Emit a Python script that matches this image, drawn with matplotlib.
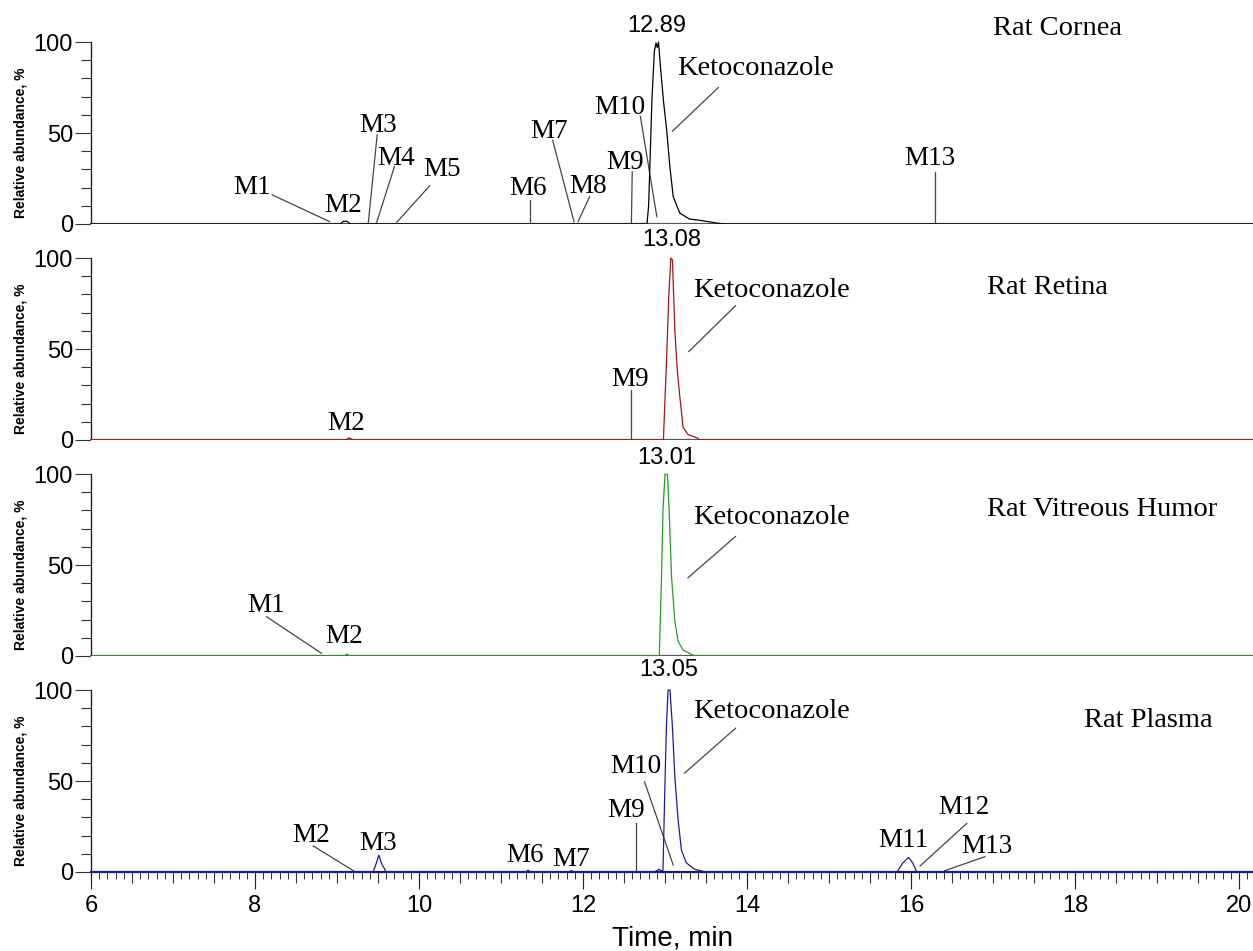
import matplotlib
matplotlib.use("Agg")
import matplotlib.pyplot as plt
from matplotlib.ticker import MultipleLocator, FixedLocator

# chromatogram traces (time in min, relative abundance in %)
cornea_t = [6.0, 9.04, 9.08, 9.12, 9.16, 12.78, 12.80, 12.84, 12.87, 12.89, 12.905,
            12.92, 12.945, 12.98, 13.02, 13.06, 13.10, 13.18, 13.30, 13.43, 13.63,
            13.70, 20.2]
cornea_i = [0, 0, 1.5, 1.5, 0, 0, 10, 68, 95, 99.5, 97,
            100, 86, 68, 51.6, 31, 15, 6, 2.7, 2, 0.5,
            0, 0]

retina_t = [6.0, 9.10, 9.15, 9.20, 12.98, 13.017, 13.045, 13.07, 13.09, 13.12,
            13.15, 13.18, 13.22, 13.28, 13.40, 13.42, 20.2]
retina_i = [0, 0, 1.2, 0, 0, 42, 78, 100, 99, 60,
            38, 24, 7, 3, 1, 0, 0]

vitreous_t = [6.0, 9.08, 9.12, 9.16, 12.93, 12.957, 12.975, 13.0, 13.03, 13.05,
              13.08, 13.12, 13.16, 13.22, 13.34, 13.38, 20.2]
vitreous_i = [0, 0, 1, 0, 0, 43, 80, 100, 99.6, 80,
              43, 19, 8, 3.3, 0.5, 0, 0]

plasma_t = [6.0, 9.44, 9.48, 9.51, 9.54, 9.60, 11.30, 11.33, 11.36, 11.83,
            11.86, 11.89, 12.87, 12.895, 12.93, 12.955, 12.975, 12.996, 13.017,
            13.037, 13.06, 13.09, 13.12, 13.16, 13.20, 13.26, 13.36, 13.50,
            15.83, 15.90, 15.97, 16.02, 16.07, 20.2]
plasma_i = [0, 0, 5, 9.3, 5, 0, 0, 1, 0, 0,
            0.8, 0, 0, 0.7, 1.5, 0.5, 1, 43, 80,
            100, 100, 80, 52, 28.5, 12, 5, 1.5, 0,
            0, 5, 8, 5, 0, 0]

sample_names = ["Rat Cornea", "Rat Retina", "Rat Vitreous Humor", "Rat Plasma"]
peak_times = ["12.89", "13.08", "13.01", "13.05"]
trace_colors = ["black", "#a01818", "#2a9a2a", "#1c1ca0"]

# label layout: (text, text x, text y, line from (x, y), line to (x, y)) in data units
cornea_labels = [
    ("M1", 7.97, 19.8, (8.21, 16), (8.91, 1.3)),
    ("M2", 9.07, 10.4, None, None),
    ("M3", 9.50, 54, (9.49, 49), (9.38, 0)),
    ("M4", 9.72, 36, (9.70, 31.5), (9.48, 0.4)),
    ("M5", 10.28, 29.7, (10.13, 21), (9.73, 1)),
    ("M6", 11.33, 19.6, (11.35, 13), (11.35, 0.5)),
    ("M7", 11.59, 50.7, (11.63, 46), (11.89, 1.3)),
    ("M8", 12.06, 20.5, (12.08, 15), (11.94, 1.3)),
    ("M9", 12.51, 34, (12.60, 28.7), (12.59, 0.5)),
    ("M10", 12.45, 64, (12.70, 59), (12.90, 4)),
    ("Ketoconazole", 14.10, 85.7, (13.65, 75), (13.09, 51)),
    ("M13", 16.23, 36, (16.29, 28.5), (16.29, 0.5)),
]
retina_labels = [
    ("M2", 9.11, 9, None, None),
    ("M9", 12.57, 33, (12.58, 27.5), (12.58, 0.5)),
    ("Ketoconazole", 14.30, 82, (13.86, 73.8), (13.29, 48.6)),
]
vitreous_labels = [
    ("M1", 8.14, 28, (8.14, 21.6), (8.81, 1.5)),
    ("M2", 9.09, 10.6, None, None),
    ("Ketoconazole", 14.30, 76, (13.86, 65.7), (13.28, 43)),
]
plasma_labels = [
    ("M2", 8.69, 20.3, (8.71, 14.3), (9.20, 0.7)),
    ("M3", 9.50, 15.8, None, None),
    ("M6", 11.29, 8.8, None, None),
    ("M7", 11.86, 7, None, None),
    ("M9", 12.52, 34, (12.64, 26.7), (12.64, 0.5)),
    ("M10", 12.65, 57.8, (12.75, 49.6), (13.10, 3.8)),
    ("Ketoconazole", 14.30, 88, (13.86, 79), (13.24, 54.4)),
    ("M11", 15.91, 17.2, None, None),
    ("M12", 16.65, 35.5, (16.68, 26.7), (16.11, 3.3)),
    ("M13", 16.92, 14, (16.90, 8.4), (16.41, 0.7)),
]

traces = [(cornea_t, cornea_i), (retina_t, retina_i),
          (vitreous_t, vitreous_i), (plasma_t, plasma_i)]
labels = [cornea_labels, retina_labels, vitreous_labels, plasma_labels]
peak_label_pos = [(12.90, 109), (13.08, 110), (13.02, 109), (13.045, 111)]
name_pos = [(17.78, 107.7), (17.66, 83.6), (18.33, 80.7), (18.89, 83.5)]

SANS = "Liberation Sans"
SERIF = "Liberation Serif"

W, H = 1253, 951
fig = plt.figure(figsize=(W / 100, H / 100), dpi=100)

left = 91 / W
width = (W - 91) / W
panel_h = 216 / H
bottoms = [224, 440, 656, 872]
YMAX = 118.7

for k in range(4):
    ax = fig.add_axes([left, 1 - bottoms[k] / H, width, panel_h])
    t, inten = traces[k]
    ax.plot(t, inten, color=trace_colors[k], lw=0.9, clip_on=False, zorder=3)
    ax.set_xlim(6, 20.17)
    ax.set_ylim(0, YMAX)

    ax.spines[["top", "right"]].set_visible(False)
    ax.spines["left"].set_color("#222")
    ax.spines["left"].set_linewidth(1.0)
    ax.spines["left"].set_bounds(0, 100)
    ax.spines["bottom"].set_color("#555")
    ax.spines["bottom"].set_linewidth(1.6)

    ax.set_yticks([0, 50, 100])
    ax.yaxis.set_minor_locator(FixedLocator([10, 20, 30, 40, 60, 70, 80, 90]))
    ax.tick_params(axis="y", which="major", length=11.5, width=0.8, color="#333",
                   pad=1.5, labelsize=17)
    ax.tick_params(axis="y", which="minor", length=7, width=0.8, color="#333")
    for lab in ax.get_yticklabels():
        lab.set_fontfamily(SANS)

    ax.text(-0.061, 0.375, "Relative abundance, %", transform=ax.transAxes,
            rotation=90, ha="center", va="center", fontsize=10,
            fontweight="bold", family=SANS)

    # peak retention time, sample name
    ax.text(*peak_label_pos[k], peak_times[k], ha="center", va="center",
            fontsize=17, family=SANS)
    ax.text(*name_pos[k], sample_names[k], ha="center", va="center",
            fontsize=20.5, family=SERIF)

    for text, tx, ty, p0, p1 in labels[k]:
        fs = 20.5 if text == "Ketoconazole" else 19.5
        ax.text(tx, ty, text, ha="center", va="center", fontsize=fs, family=SERIF)
        if p0 is not None:
            ax.plot([p0[0], p1[0]], [p0[1], p1[1]], color="#444", lw=0.9,
                    zorder=2)

    if k < 3:
        ax.set_xticks([])
    else:
        ax.spines["bottom"].set_color("#1a1a5a")
        ax.xaxis.set_major_locator(MultipleLocator(2))
        ax.xaxis.set_minor_locator(MultipleLocator(0.1))
        ax.tick_params(axis="x", which="major", length=12.5, width=0.8,
                       color="#222", pad=4, labelsize=17)
        ax.tick_params(axis="x", which="minor", length=5, width=0.7, color="#333")
        for lab in ax.get_xticklabels():
            lab.set_fontfamily(SANS)
        sec = ax.secondary_xaxis("bottom")
        sec.xaxis.set_major_locator(MultipleLocator(0.5))
        sec.tick_params(axis="x", length=8, width=0.8, color="#333",
                        labelbottom=False)
        sec.spines["bottom"].set_visible(False)
        ax.set_xlabel("Time, min", fontsize=20, family=SANS, labelpad=6)

fig.savefig("out.png", dpi=100)
